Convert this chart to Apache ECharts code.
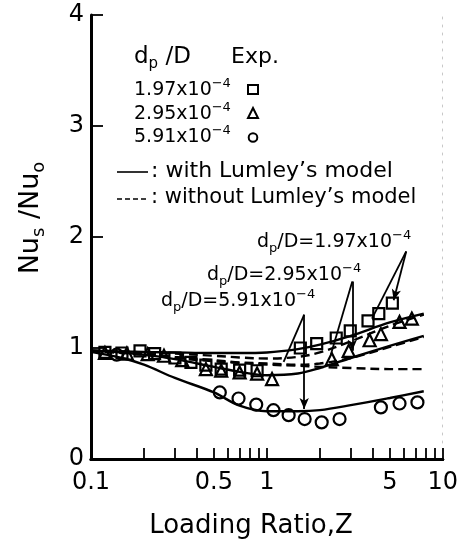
<!DOCTYPE html>
<html>
<head>
<meta charset="utf-8">
<script src="https://cdn.jsdelivr.net/npm/echarts@6/dist/echarts.min.js"></script>
<style>
html,body{margin:0;padding:0;background:#fff;}
#chart{width:461px;height:543px;}
</style>
</head>
<body>
<div id="chart"></div>
<script>
// ---- data ----
var xTickVals = [0.1,0.2,0.3,0.4,0.5,0.6,0.7,0.8,0.9,1,2,3,4,5,6,7,8,9,10];
var xLabelVals = [0.1,0.5,1,5,10];
var yTickVals = [0,1,2,3,4];

// experimental points
var zSquare = [0.12,0.15,0.19,0.23,0.30,0.37,0.45,0.55,0.70,0.88,1.55,1.92,2.48,2.98,3.76,4.33,5.17];
var nuSquare = [0.96,0.955,0.975,0.95,0.91,0.87,0.845,0.81,0.80,0.795,1.00,1.04,1.09,1.155,1.245,1.31,1.405];
var zTriangle = [0.12,0.16,0.21,0.26,0.33,0.45,0.55,0.70,0.88,1.07,2.34,2.92,3.84,4.45,5.68,6.67];
var nuTriangle = [0.955,0.95,0.945,0.93,0.89,0.81,0.795,0.78,0.77,0.72,0.90,0.975,1.07,1.125,1.235,1.265];
var zCircle = [0.14,0.54,0.69,0.87,1.09,1.33,1.64,2.05,2.59,4.45,5.68,7.18];
var nuCircle = [0.94,0.60,0.545,0.49,0.44,0.395,0.36,0.33,0.36,0.465,0.50,0.51];

// model curves
var zCurve = [0.1,0.15,0.2,0.3,0.5,0.7,1,1.5,2,3,5,7.8];
var withModel197 = [0.975,0.97,0.965,0.96,0.955,0.955,0.96,0.99,1.03,1.11,1.23,1.31];
var withModel295 = [0.975,0.96,0.94,0.90,0.83,0.785,0.755,0.77,0.82,0.91,1.02,1.11];
var withModel591 = [0.965,0.91,0.85,0.73,0.60,0.48,0.43,0.43,0.44,0.485,0.55,0.61];
var withoutModel197 = [0.975,0.97,0.96,0.95,0.93,0.915,0.905,0.92,0.96,1.06,1.20,1.30];
var withoutModel295 = [0.975,0.965,0.95,0.92,0.89,0.87,0.86,0.85,0.86,0.91,1.01,1.10];
var withoutModel591 = [0.97,0.955,0.94,0.91,0.88,0.865,0.85,0.84,0.83,0.82,0.81,0.81];

// annotation leaders (data coords): apex, plain end, arrow end
var leaderApex = [[6.2,1.87],[3.06,1.60],[1.63,1.30]];
var leaderPlain = [[3.96,1.265],[2.31,0.94],[1.245,0.875]];
var leaderArrow = [[5.26,1.43],[3.06,0.975],[1.63,0.45]];

var FONT = 'DejaVu Sans';

function pairs(xs, ys){ return xs.map(function(x,i){ return [x, ys[i]]; }); }

function curve(name, ys, dashed){
  return {
    name: name, type: 'line', data: pairs(zCurve, ys), smooth: 0.35,
    showSymbol: false, silent: true, z: 2,
    lineStyle: {color:'#000', width: 2.4, type: dashed ? [9,5] : 'solid'}
  };
}
function pts(name, xs, ys, symbol, size){
  return {
    name: name, type: 'scatter', data: pairs(xs, ys), symbol: symbol, symbolSize: size,
    silent: true, z: 4,
    itemStyle: {color:'rgba(0,0,0,0)', borderColor:'#000', borderWidth: 2.2, opacity: 1}
  };
}

var leaderLines = [];
for (var i = 0; i < leaderApex.length; i++) {
  leaderLines.push([{coord: leaderApex[i], symbol:'none'}, {coord: leaderPlain[i], symbol:'none'}]);
  leaderLines.push([{coord: leaderApex[i], symbol:'none'}, {coord: leaderArrow[i], symbol:'arrow', symbolSize:[7,11]}]);
}

var series = [
  curve('with 1.97', withModel197, false),
  curve('with 2.95', withModel295, false),
  curve('with 5.91', withModel591, false),
  curve('without 1.97', withoutModel197, true),
  curve('without 2.95', withoutModel295, true),
  curve('without 5.91', withoutModel591, true),
  pts('1.97', zSquare, nuSquare, 'rect', 11),
  pts('2.95', zTriangle, nuTriangle, 'triangle', 12),
  pts('5.91', zCircle, nuCircle, 'circle', 12),
  {
    type: 'line', data: [], silent: true, z: 3,
    markLine: {
      silent: true, animation: false, symbol: ['none','none'],
      label: {show: false},
      lineStyle: {color:'#000', width: 1.8, type:'solid', opacity: 1},
      emphasis: {disabled: true},
      data: leaderLines
    }
  }
];

var richBase = {
  m: {fontFamily: FONT, fontSize: 19, lineHeight: 26, verticalAlign: 'middle', fill: '#000'},
  s: {fontFamily: FONT, fontSize: 13, lineHeight: 13, verticalAlign: 'top', fill: '#000'},
  b: {fontFamily: FONT, fontSize: 13, lineHeight: 13, verticalAlign: 'bottom', fill: '#000'}
};
function richText(x, y, text, sizes, extra){
  var rich = JSON.parse(JSON.stringify(richBase));
  if (sizes) {
    rich.m.fontSize = sizes[0]; rich.m.lineHeight = sizes[2];
    rich.s.fontSize = sizes[1]; rich.s.lineHeight = sizes[1];
    rich.b.fontSize = sizes[1]; rich.b.lineHeight = sizes[1];
  }
  var el = {
    type: 'text', x: x, y: y, silent: true, z: 10,
    style: {text: text, rich: rich, fill: '#000', align: 'left', verticalAlign: 'middle', fontFamily: FONT}
  };
  if (extra) for (var k in extra) el[k] = extra[k];
  return el;
}
function plainText(x, y, text, size, align){
  return {type:'text', x:x, y:y, silent:true, z:10,
    style:{text:text, fontFamily:FONT, fontSize:size, fill:'#000', align: align || 'left', verticalAlign:'middle'}};
}

var graphics = [
  // legend header
  richText(134, 57, '{m|d}{b|p}{m| /D}', [23, 15, 30]),
  plainText(231, 57, 'Exp.', 22),
  richText(134, 90, '{m|1.97x10}{s|\u22124}', [19, 13, 26]),
  richText(134, 114, '{m|2.95x10}{s|\u22124}', [19, 13, 26]),
  richText(134, 137, '{m|5.91x10}{s|\u22124}', [19, 13, 26]),
  {type:'rect', silent:true, z:10, shape:{x:248, y:85, width:10, height:9}, style:{fill:'none', stroke:'#000', lineWidth:2}},
  {type:'polygon', silent:true, z:10, shape:{points:[[253,108],[258,118],[248,118]]}, style:{fill:'none', stroke:'#000', lineWidth:2}},
  {type:'circle', silent:true, z:10, shape:{cx:253, cy:137.5, r:4.3}, style:{fill:'none', stroke:'#000', lineWidth:2}},
  {type:'line', silent:true, z:10, shape:{x1:117, y1:172, x2:148, y2:172}, style:{stroke:'#000', lineWidth:1.6}},
  plainText(151, 171, ': with Lumley\u2019s model', 22),
  {type:'line', silent:true, z:10, shape:{x1:117, y1:199, x2:148, y2:199}, style:{stroke:'#000', lineWidth:1.6, lineDash:[5,3]}},
  plainText(151, 198, ': without Lumley\u2019s model', 21),
  // curve annotations
  richText(257, 242, '{m|d}{b|p}{m|/D=1.97x10}{s|\u22124}', [19, 13, 26]),
  richText(207, 275, '{m|d}{b|p}{m|/D=2.95x10}{s|\u22124}', [19, 13, 26]),
  richText(161, 301, '{m|d}{b|p}{m|/D=5.91x10}{s|\u22124}', [19, 13, 26]),
  // axis titles
  plainText(251, 526, 'Loading Ratio,Z', 26, 'center'),
  {type:'text', silent:true, z:10, x:31, y:218, rotation: Math.PI/2,
   style:{text:'{m|Nu}{b|s}{m| /Nu}{b|o}', align:'center', verticalAlign:'middle', fill:'#000',
     rich:{m:{fontFamily:FONT, fontSize:27, lineHeight:34, verticalAlign:'middle'},
           b:{fontFamily:FONT, fontSize:18, lineHeight:18, verticalAlign:'bottom'}}}}
];

var chart = echarts.init(document.getElementById('chart'), null, {renderer:'canvas'});
chart.setOption({
  animation: false,
  backgroundColor: '#fff',
  grid: {left: 91, right: 12, top: 15, bottom: 84, containLabel: false},
  xAxis: [{
    type: 'log', logBase: 10, min: 0.1, max: 10,
    axisLine: {show: true, lineStyle: {color:'#000', width: 3}},
    axisTick: {show: true, inside: true, length: 11, customValues: xTickVals, lineStyle: {color:'#000', width: 1.8}},
    axisLabel: {show: true, customValues: xLabelVals, margin: 12, fontFamily: FONT, fontSize: 24, color:'#000',
      formatter: function(v){ return String(+(+v).toPrecision(3)); }},
    minorTick: {show: false},
    splitLine: {show: false}
  }, {
    type: 'value', position: 'top', min: 0, max: 1,
    axisLine: {show: true, lineStyle: {color:'#000', width: 3}},
    axisTick: {show: false}, axisLabel: {show: false}, splitLine: {show: false}
  }],
  yAxis: [{
    type: 'value', min: 0, max: 4, interval: 1,
    axisLine: {show: true, lineStyle: {color:'#000', width: 3}},
    axisTick: {show: true, inside: true, length: 12, lineStyle: {color:'#000', width: 1.8}},
    axisLabel: {show: true, margin: 7, fontFamily: FONT, fontSize: 24, color:'#000',
      formatter: function(v){ return yTickVals.indexOf(v) >= 0 ? String(v) : ''; }},
    splitLine: {show: false}
  }, {
    type: 'value', position: 'right', min: 0, max: 4,
    axisLine: {show: true, lineStyle: {color:'#c8c8c8', width: 1, type: [2,6]}},
    axisTick: {show: false}, axisLabel: {show: false}, splitLine: {show: false}
  }],
  series: series,
  graphic: graphics
});
</script>
</body>
</html>
